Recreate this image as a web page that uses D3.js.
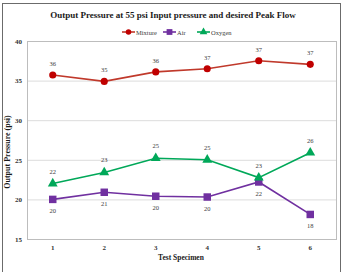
<!DOCTYPE html>
<html>
<head>
<meta charset="utf-8">
<script src="https://cdn.jsdelivr.net/npm/d3@7"></script>
<style>
  body { margin: 0; background: #fff; }
  svg { display: block; font-family: "Liberation Serif", "Times New Roman", serif; }
</style>
</head>
<body>
<div id="chart"></div>
<script>
// data
var specimens = ['1', '2', '3', '4', '5', '6'];
var mixture = [35.7, 34.9, 36.1, 36.5, 37.5, 37.05];
var air = [20.0, 20.9, 20.4, 20.3, 22.2, 18.1];
var oxygen = [22.0, 23.4, 25.2, 25.0, 22.75, 25.9];
var mixture_labels = [36, 35, 36, 37, 37, 37];
var air_labels = [20, 21, 20, 20, 22, 18];
var oxygen_labels = [22, 23, 25, 25, 23, 26];
var y_ticks = [15, 20, 25, 30, 35, 40];

var chart_width = 342;
var chart_height = 272;
var plot = { left: 27, right: 336, top: 41, bottom: 239 };

var svg = d3.select('#chart')
  .append('svg')
  .attr('width', chart_width)
  .attr('height', chart_height);

// outer frame
svg.append('rect')
  .attr('x', 2.5)
  .attr('y', 3.5)
  .attr('width', 338)
  .attr('height', 300)
  .attr('fill', 'none')
  .attr('stroke', '#6b6b6b')
  .attr('stroke-width', 1);

// scales
var x_scale = d3.scaleBand()
  .domain(specimens)
  .range([plot.left, plot.right])
  .padding(0);

var y_scale = d3.scaleLinear()
  .domain([15, 40])
  .range([plot.bottom, plot.top]);

function cx(d, i) { return x_scale(specimens[i]) + x_scale.bandwidth() / 2; }

// gridlines
svg.append('g')
  .selectAll('line')
  .data(y_ticks.slice(1, -1))
  .enter()
  .append('line')
  .attr('x1', plot.left)
  .attr('x2', plot.right)
  .attr('y1', function(d) { return y_scale(d) + 0.5; })
  .attr('y2', function(d) { return y_scale(d) + 0.5; })
  .attr('stroke', '#dcdcdc')
  .attr('stroke-width', 1);

// plot border
svg.append('rect')
  .attr('x', plot.left + 0.5)
  .attr('y', plot.top + 0.5)
  .attr('width', plot.right - plot.left)
  .attr('height', plot.bottom - plot.top)
  .attr('fill', 'none')
  .attr('stroke', '#bdbdbd')
  .attr('stroke-width', 1);

// axes
var y_axis = d3.axisLeft(y_scale).tickValues(y_ticks).tickSize(0).tickPadding(5);
var y_g = svg.append('g')
  .attr('transform', 'translate(' + plot.left + ',0)')
  .call(y_axis);
y_g.select('.domain').remove();
y_g.selectAll('text')
  .attr('font-family', '"Liberation Serif", serif')
  .attr('font-size', 7)
  .attr('font-weight', 'bold')
  .attr('fill', '#333');

var x_axis = d3.axisBottom(x_scale).tickSize(0).tickPadding(6);
var x_g = svg.append('g')
  .attr('transform', 'translate(0,' + plot.bottom + ')')
  .call(x_axis);
x_g.select('.domain').remove();
x_g.selectAll('text')
  .attr('font-family', '"Liberation Serif", serif')
  .attr('font-size', 7)
  .attr('font-weight', 'bold')
  .attr('fill', '#333');

// title and axis titles
svg.append('text')
  .attr('x', 173)
  .attr('y', 18)
  .attr('text-anchor', 'middle')
  .attr('font-size', 9)
  .attr('font-weight', 'bold')
  .attr('fill', '#1a1a1a')
  .text('Output Pressure at 55 psi Input pressure and desired Peak Flow');

svg.append('text')
  .attr('x', 181)
  .attr('y', 260)
  .attr('text-anchor', 'middle')
  .attr('font-size', 7.5)
  .attr('font-weight', 'bold')
  .attr('fill', '#1a1a1a')
  .text('Test Specimen');

svg.append('text')
  .attr('transform', 'translate(10,152) rotate(-90)')
  .attr('text-anchor', 'middle')
  .attr('font-size', 8)
  .attr('font-weight', 'bold')
  .attr('fill', '#1a1a1a')
  .text('Output Pressure (psi)');

// series
var series = [
  { name: 'Mixture', values: mixture, labels: mixture_labels, line: '#c0392b', fill: '#c00000', shape: d3.symbolCircle, size: 40, dy: -9 },
  { name: 'Air', values: air, labels: air_labels, line: '#7030a0', fill: '#7030a0', shape: d3.symbolSquare, size: 56, dy: 14 },
  { name: 'Oxygen', values: oxygen, labels: oxygen_labels, line: '#00a859', fill: '#00a859', shape: d3.symbolTriangle, size: 42, dy: -10 }
];

var line = d3.line()
  .x(function(d, i) { return cx(d, i); })
  .y(function(d) { return y_scale(d); });

series.forEach(function(s) {
  var g = svg.append('g');
  g.append('path')
    .datum(s.values)
    .attr('d', line)
    .attr('fill', 'none')
    .attr('stroke', s.line)
    .attr('stroke-width', 1.6);

  g.selectAll('path.marker')
    .data(s.values)
    .enter()
    .append('path')
    .attr('class', 'marker')
    .attr('d', d3.symbol().type(s.shape).size(s.size))
    .attr('transform', function(d, i) {
      return 'translate(' + cx(d, i) + ',' + y_scale(d) + ')';
    })
    .attr('fill', s.fill);

  g.selectAll('text')
    .data(s.values)
    .enter()
    .append('text')
    .attr('x', function(d, i) { return cx(d, i); })
    .attr('y', function(d) { return y_scale(d) + s.dy; })
    .attr('text-anchor', 'middle')
    .attr('font-size', 6.5)
    .attr('fill', '#404040')
    .text(function(d, i) { return s.labels[i]; });
});

// legend
var legend_x = [122, 163, 197];
var legend = svg.append('g')
  .selectAll('g')
  .data(series)
  .enter()
  .append('g')
  .attr('transform', function(d, i) { return 'translate(' + legend_x[i] + ',32)'; });

legend.append('line')
  .attr('x1', 0)
  .attr('x2', 13)
  .attr('stroke', function(d) { return d.line; })
  .attr('stroke-width', 1.6);

legend.append('path')
  .attr('d', function(d) { return d3.symbol().type(d.shape).size(d.size * 0.6)(); })
  .attr('transform', 'translate(6.5,0)')
  .attr('fill', function(d) { return d.fill; });

legend.append('text')
  .attr('x', 14)
  .attr('y', 2.5)
  .attr('font-size', 6.5)
  .attr('fill', '#404040')
  .text(function(d) { return d.name; });
</script>
</body>
</html>
